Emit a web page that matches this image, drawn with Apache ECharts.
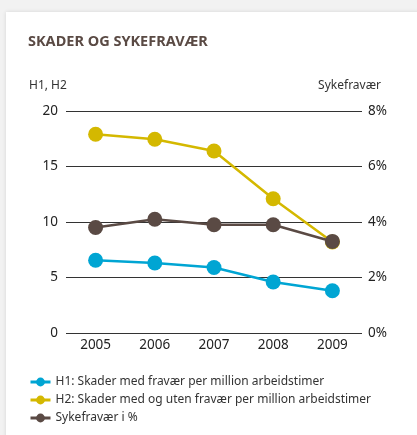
<!DOCTYPE html>
<html><head><meta charset="utf-8">
<script src="https://cdn.jsdelivr.net/npm/echarts@6/dist/echarts.min.js"></script>
<style>
html,body{margin:0;padding:0;background:#f2f2f2;width:417px;height:435px;overflow:hidden;}
#card{position:absolute;left:6px;top:12px;width:430px;height:440px;background:#fff;box-shadow:0 0 4px rgba(0,0,0,0.12);}
#c{position:absolute;left:0;top:0;width:417px;height:435px;}
</style></head>
<body><div id="card"></div><div id="c"></div>
<script>
const years = ['2005','2006','2007','2008','2009'];
const h1 = [6.55, 6.3, 5.9, 4.6, 3.8];
const h2 = [17.9, 17.45, 16.4, 12.1, 8.2];
const syke = [3.8, 4.1, 3.9, 3.9, 3.3];
const leftTicks = {min:0, max:20, interval:5};
const rightTicks = {min:0, max:8, interval:2};
const names = ['H1: Skader med fravær per million arbeidstimer','H2: Skader med og uten fravær per million arbeidstimer','Sykefravær i %'];
const colors = ['#00a5d3','#d4b800','#5a4a44'];
const font = 'Noto Sans';
const chart = echarts.init(document.getElementById('c'), null, {renderer:'canvas'});
chart.setOption({
  backgroundColor:'transparent',
  textStyle:{fontFamily:font},
  title:[
    {text:'SKADER OG SYKEFRAVÆR', left:23, top:29, textStyle:{fontFamily:font, fontSize:14.5, fontWeight:'bold', color:'#5a4a44'}},
    {text:'H1, H2', left:24, top:75, textStyle:{fontFamily:font, fontSize:12, fontWeight:'normal', color:'#333'}},
    {text:'Sykefravær', right:31, top:75, textStyle:{fontFamily:font, fontSize:12, fontWeight:'normal', color:'#333'}}
  ],
  grid:{left:66, right:55, top:111, bottom:102},
  xAxis:{type:'category', data:years, boundaryGap:true,
    axisLine:{show:false}, axisTick:{show:false},
    axisLabel:{color:'#222', fontSize:13.5, margin:5}},
  yAxis:[
    {type:'value', min:leftTicks.min, max:leftTicks.max, interval:leftTicks.interval,
     axisLine:{show:false}, axisTick:{show:false},
     axisLabel:{color:'#222', fontSize:13.5, margin:8},
     splitLine:{lineStyle:{color:'#333', width:1}}},
    {type:'value', min:rightTicks.min, max:rightTicks.max, interval:rightTicks.interval, position:'right',
     axisLine:{show:false}, axisTick:{show:false},
     axisLabel:{color:'#222', fontSize:13.5, margin:6, formatter:'{value}%'},
     splitLine:{show:false}}
  ],
  legend:{orient:'vertical', left:24, top:371, itemGap:6, itemWidth:20, itemHeight:11,
    lineStyle:{width:3},
    textStyle:{color:'#333', fontSize:12, fontFamily:font},
    data:names},
  series:[
    {name:names[0], type:'line', data:h1, yAxisIndex:0, symbol:'circle', symbolSize:15,
     itemStyle:{color:colors[0]}, lineStyle:{color:colors[0], width:2.5}, z:3},
    {name:names[1], type:'line', data:h2, yAxisIndex:0, symbol:'circle', symbolSize:15,
     itemStyle:{color:colors[1]}, lineStyle:{color:colors[1], width:2.5}, z:3},
    {name:names[2], type:'line', data:syke, yAxisIndex:1, symbol:'circle', symbolSize:15,
     itemStyle:{color:colors[2]}, lineStyle:{color:colors[2], width:2.5}, z:4}
  ],
  animation:false
});
</script></body></html>
